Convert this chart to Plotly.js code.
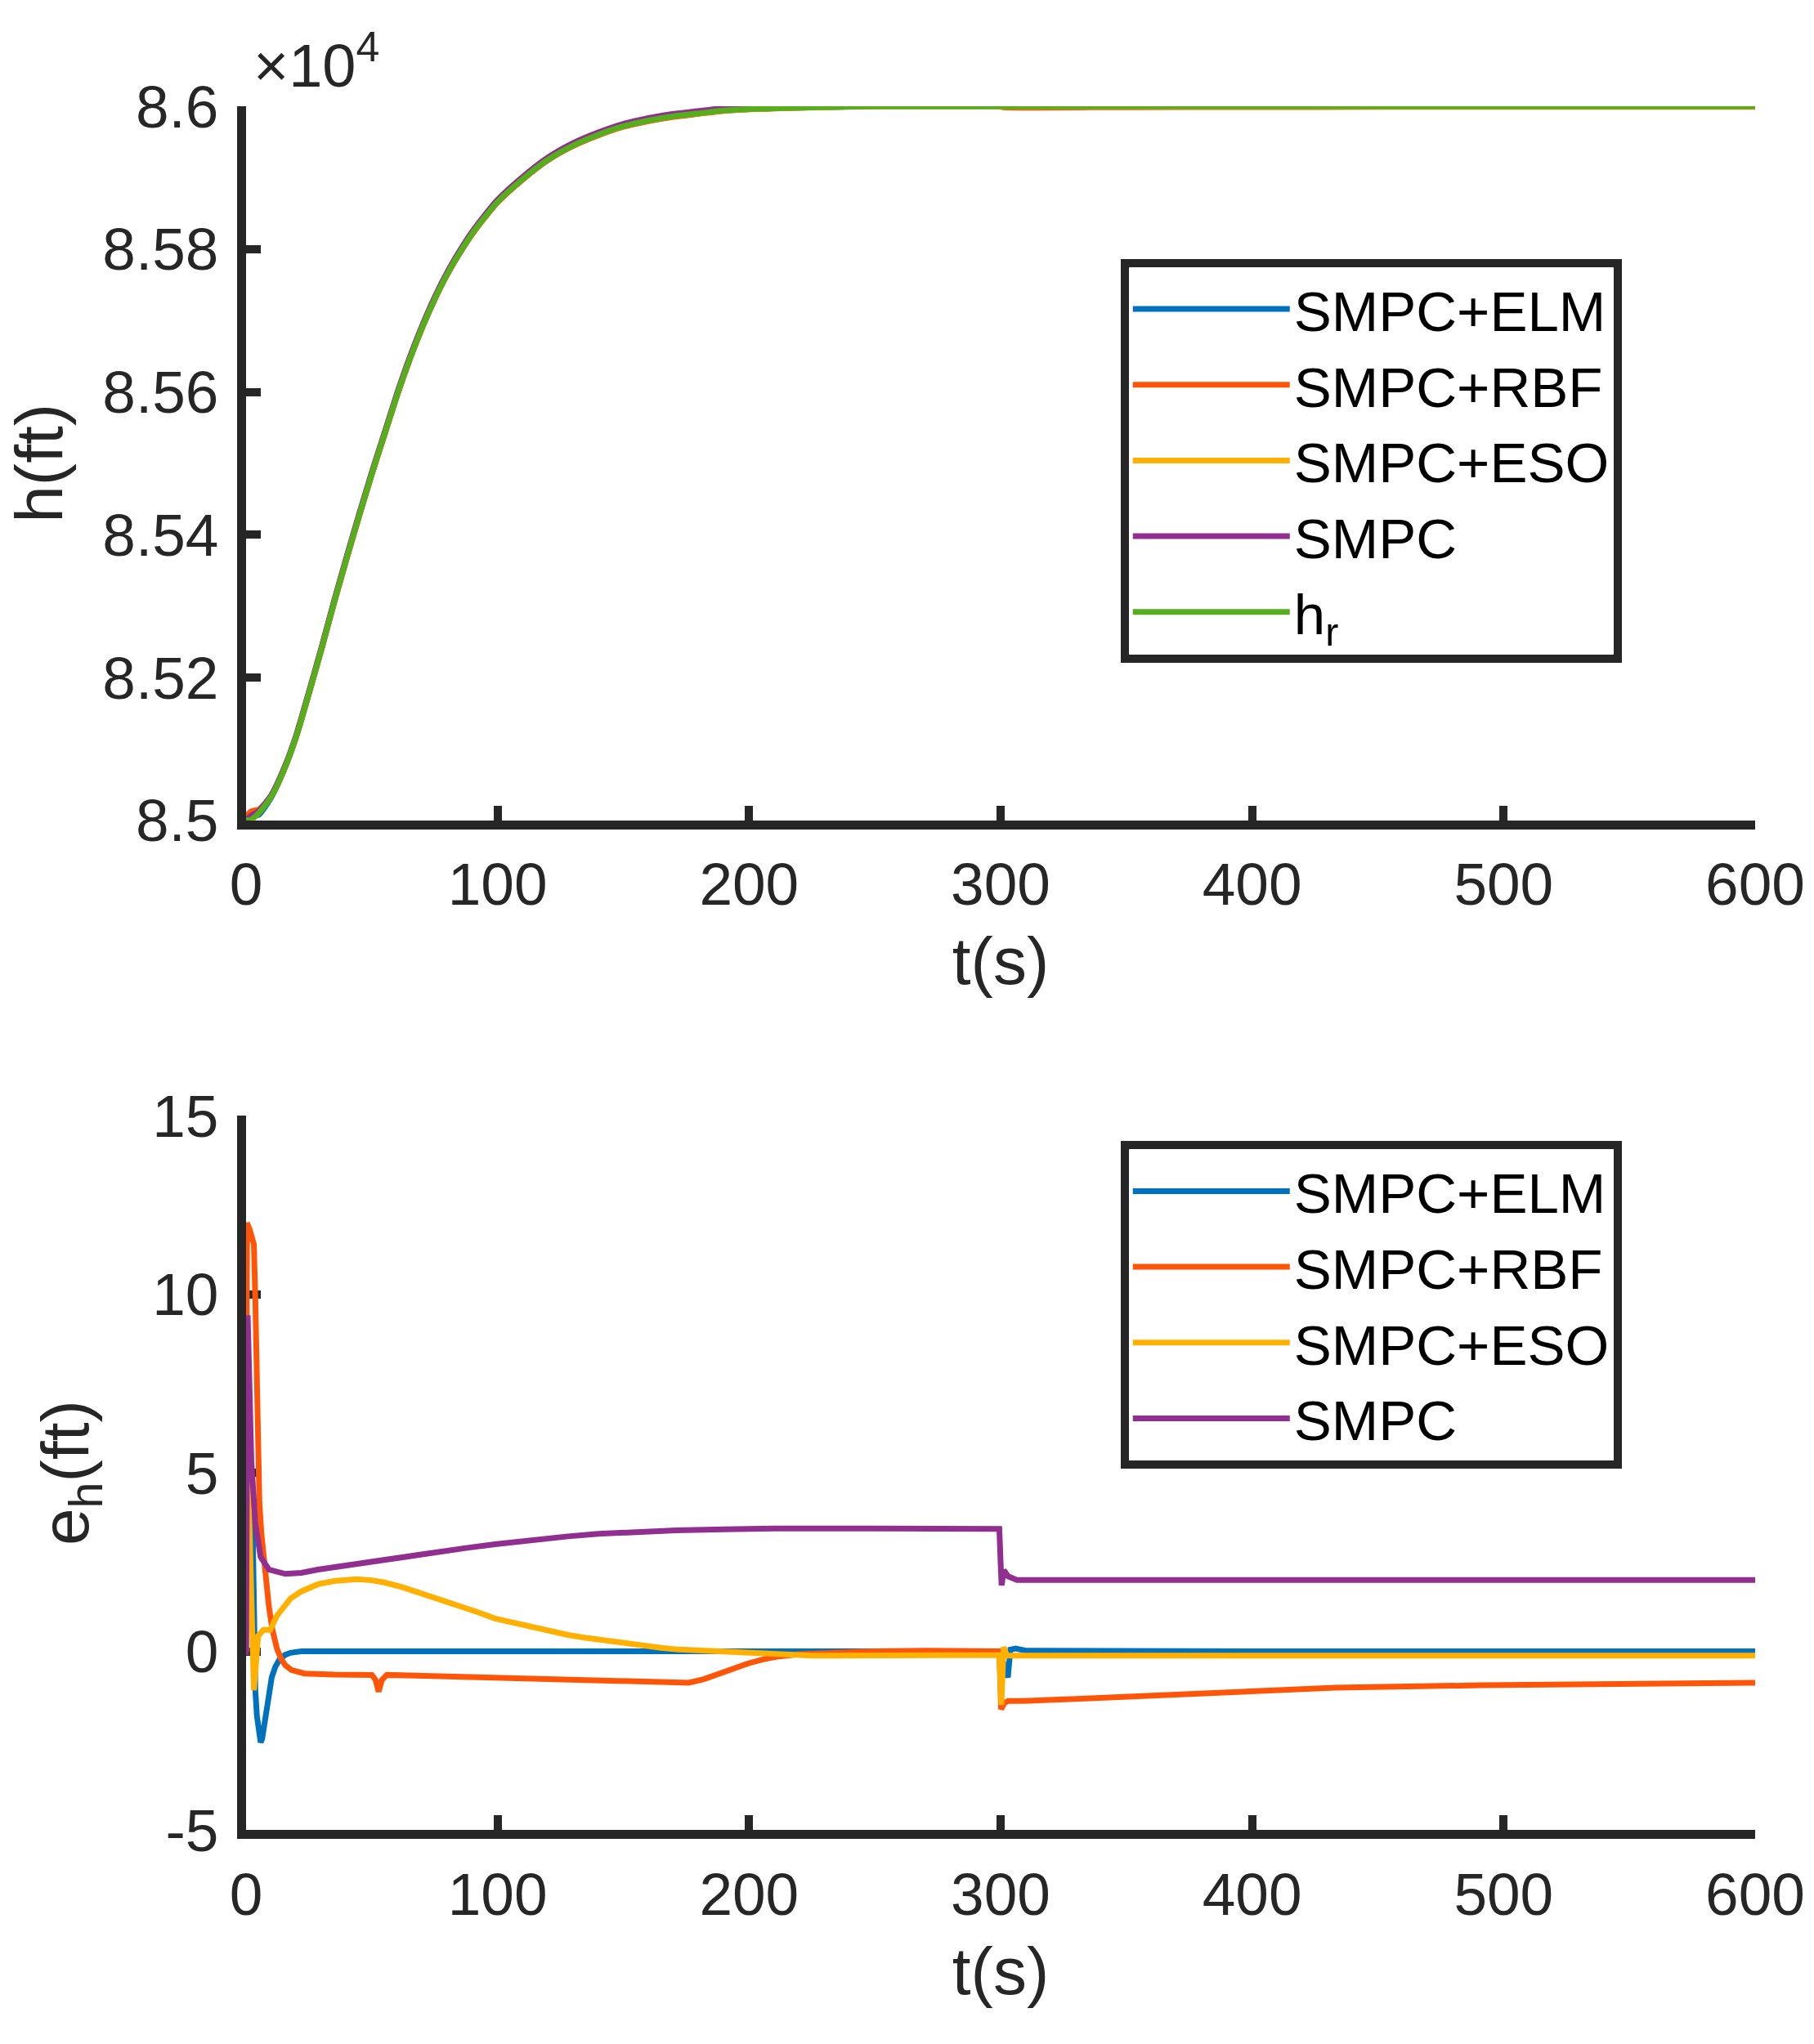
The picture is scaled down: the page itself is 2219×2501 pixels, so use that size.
<!DOCTYPE html>
<html>
<head>
<meta charset="utf-8">
<script src="https://cdn.plot.ly/plotly-3.0.1.min.js"></script>
<style>
  html, body { margin: 0; padding: 0; background: #fff; }
  #chart { width: 2219px; height: 2501px; }
</style>
</head>
<body>
<div id="chart"></div>
<script>
// top panel: altitude (ft)
const tTop = [0, 2, 5, 10, 15, 20, 25, 30, 35, 40, 45, 50, 55, 60, 65, 70, 75, 80, 85, 90, 95, 100,
  110, 120, 130, 140, 150, 160, 170, 180, 190, 200, 220, 250, 299, 301, 350, 400, 450, 500, 550, 600];
const hRef = [85000, 85001, 85010, 85033, 85070, 85118, 85178, 85240, 85305, 85367, 85427, 85485, 85540, 85595,
  85645, 85690, 85730, 85765, 85795, 85822, 85845, 85866, 85898, 85925, 85945, 85960, 85972, 85980, 85986,
  85990, 85994, 85996, 85998, 86000, 86000, 86000, 86000, 86000, 86000, 86000, 86000, 86000];
const hELM = [85000, 85006, 85007.6, 85032.2, 85069.9, 85118, 85178, 85240, 85305, 85367, 85427, 85485, 85540,
  85595, 85645, 85690, 85730, 85765, 85795, 85822, 85845, 85866, 85898, 85925, 85945, 85960, 85972, 85980,
  85986, 85990, 85994, 85996, 85998, 86000, 86000, 86000, 86000, 86000, 86000, 86000, 86000, 86000];
const hRBF = [85004.5, 85012.7, 85015, 85033.8, 85069.7, 85117.4, 85177.4, 85239.4, 85304.4, 85366.4, 85426.4,
  85484.4, 85539.3, 85594.3, 85644.3, 85689.3, 85729.3, 85764.3, 85794.3, 85821.3, 85844.3, 85865.3, 85897.3,
  85924.3, 85944.3, 85959.2, 85971.2, 85979.1, 85985.1, 85989.3, 85993.5, 85995.7, 85997.9, 86000, 86000,
  85998.5, 85998.7, 85998.9, 85999, 85999, 85999.1, 85999.1];
const hESO = [85000, 85001.5, 85010.5, 85033.7, 85071.3, 85119.6, 85179.8, 85241.9, 85307, 85369, 85429, 85487,
  85541.9, 85596.8, 85646.7, 85691.6, 85731.5, 85766.4, 85796.3, 85823.2, 85846, 85866.9, 85898.7, 85925.6,
  85945.4, 85960.3, 85972.2, 85980.1, 85986.1, 85990, 85994, 85995.9, 85997.9, 85999.9, 85999.9, 86000.1,
  85999.9, 85999.9, 85999.9, 85999.9, 85999.9, 85999.9];
const hSMPC = [84999.9, 85006.3, 85013, 85035.3, 85072.2, 85120.2, 85180.3, 85242.3, 85307.4, 85369.4, 85429.5,
  85487.5, 85542.5, 85597.6, 85647.7, 85692.7, 85732.8, 85767.8, 85797.9, 85824.9, 85848, 85869, 85901.1,
  85928.2, 85948.3, 85963.3, 85975.3, 85983.4, 85989.4, 85993.4, 85997.4, 85999.4, 86001.4, 86003.4, 86003.4,
  86002.3, 86002, 86002, 86002, 86002, 86002, 86002];

// bottom panel: tracking error e_h (ft)
const tELM = [0, 0.7, 2.3, 3.2, 3.7, 4.3, 4.8, 5.3, 5.8, 6.4, 7, 8, 9, 10.2, 11.7, 13.4, 15.5, 17.7, 22, 100, 200,
  299.5, 301, 302.9, 303.9, 306, 310, 400, 600];
const eELM = [0, 6, 4.9, 0, -1.1, -1.8, -2.2, -2.45, -2.55, -2.45, -2.2, -1.67, -1.15, -0.73, -0.42, -0.22, -0.1,
  -0.04, 0, 0, 0, 0, -0.3, -0.73, 0.05, 0.08, 0.02, 0, 0];
const tRBF = [0, 0.4, 1.5, 3.1, 3.7, 4.2, 4.8, 5.3, 6.1, 6.9, 8, 9.1, 10.5, 12.3, 14, 15.6, 18, 23.2, 35, 50, 51.5,
  52.7, 54, 56, 80, 100, 128, 150, 160, 170, 176, 182, 188, 194, 200, 206, 212, 220, 230, 250, 270, 299.5, 300.2,
  301.5, 303, 309, 330, 371, 389, 433, 491, 534, 600];
const eRBF = [4.5, 12.0, 11.8, 11.4, 9.8, 7.66, 5.8, 4.16, 3.3, 2.64, 1.9, 1.24, 0.6, 0.07, -0.22, -0.39, -0.52,
  -0.62, -0.65, -0.66, -0.8, -1.13, -0.8, -0.66, -0.7, -0.74, -0.78, -0.82, -0.86, -0.9, -0.88, -0.78, -0.62,
  -0.47, -0.33, -0.22, -0.14, -0.08, -0.04, 0, 0.02, 0, -1.62, -1.45, -1.39, -1.39, -1.33, -1.2, -1.14, -1.02,
  -0.95, -0.91, -0.88];
const tESO = [0, 0.5, 1.3, 2.2, 3.1, 4, 4.8, 6.9, 9.6, 12.3, 17.7, 22, 28.6, 35, 44, 50, 55, 62, 70, 77, 85, 92,
  99, 106, 114, 121, 128, 135, 143, 150, 157, 165, 172, 180, 186, 200, 210, 225, 299.5, 300.3, 301.2, 302.5, 600];
const eESO = [0, 5.5, 3.7, 0.5, -1.09, -0.3, 0.43, 0.6, 0.6, 1.0, 1.48, 1.68, 1.88, 1.97, 2.02, 1.99, 1.93, 1.8,
  1.62, 1.45, 1.28, 1.1, 0.92, 0.8, 0.67, 0.56, 0.46, 0.38, 0.3, 0.22, 0.16, 0.1, 0.05, 0.02, 0.0, -0.06, -0.1,
  -0.12, -0.1, -1.5, 0.12, -0.12, -0.12];
const tSMPC = [0, 0.65, 2.1, 3.7, 5.8, 9.1, 15.6, 22, 28.6, 36, 44.8, 55.5, 66, 77, 88, 99, 113, 128, 140, 150,
  171, 190, 210, 250, 299.5, 300, 300.4, 301.3, 303, 306.5, 600];
const eSMPC = [-0.1, 9.41, 5.33, 3.58, 2.64, 2.29, 2.17, 2.2, 2.29, 2.37, 2.47, 2.58, 2.69, 2.8, 2.9, 3.0, 3.12,
  3.22, 3.29, 3.33, 3.39, 3.42, 3.44, 3.44, 3.43, 2.5, 1.85, 2.27, 2.1, 2.0, 2.0];

const names = ["SMPC+ELM", "SMPC+RBF", "SMPC+ESO", "SMPC", "h<sub>r</sub>"];
const colors = ["#0072BD", "#FF5508", "#FFB000", "#912F90", "#56AE1E"];
const xTicks = [0, 100, 200, 300, 400, 500, 600];
const hTicks = [8.5, 8.52, 8.54, 8.56, 8.58, 8.6];
const eTicks = [-5, 0, 5, 10, 15];
const eTickText = ["-5", "0", "5", "10", "15"];

const FONT = "Liberation Sans, Arial, Helvetica, sans-serif";
const INK = "#262626";
const LW = 7;

const topSeries = [hELM, hRBF, hESO, hSMPC, hRef];
const bottomSeries = [[tELM, eELM], [tRBF, eRBF], [tESO, eESO], [tSMPC, eSMPC]];

const traces = [];
topSeries.forEach((ys, i) => {
  traces.push({
    x: tTop, y: ys.map(v => v / 1e4), type: "scatter", mode: "lines",
    name: names[i], xaxis: "x", yaxis: "y", legend: "legend",
    line: { color: colors[i], width: LW, shape: "spline", smoothing: 0.6 }
  });
});
bottomSeries.forEach((s, i) => {
  traces.push({
    x: s[0], y: s[1], type: "scatter", mode: "lines",
    name: names[i], xaxis: "x2", yaxis: "y2", legend: "legend2",
    line: { color: colors[i], width: LW }
  });
});

function axisBase() {
  return {
    showline: true, linecolor: INK, linewidth: 11,
    ticks: "inside", ticklen: 18, tickwidth: 10, tickcolor: INK,
    showgrid: false, zeroline: false, layer: "below traces",
    tickfont: { family: FONT, size: 73, color: INK }
  };
}

const legendBase = {
  bgcolor: "#fff", bordercolor: INK, borderwidth: 10,
  font: { family: FONT, size: 69, color: "#000" },
  itemwidth: 192, tracegroupgap: 0, xanchor: "left", yanchor: "top",
  x: 0.5795
};

const layout = {
  width: 2219, height: 2501,
  margin: { l: 301, r: 72, t: 130, b: 261.5 },
  paper_bgcolor: "#fff", plot_bgcolor: "#fff",
  font: { family: FONT, color: INK },
  xaxis: Object.assign(axisBase(), {
    domain: [0, 1], anchor: "y", range: [0, 600], tickvals: xTicks, ticklabelstandoff: 5,
    title: { text: "t(s)", font: { family: FONT, size: 82, color: INK }, standoff: 30 }
  }),
  yaxis: Object.assign(axisBase(), {
    domain: [0.5857, 1], anchor: "x", range: [8.5, 8.6], tickvals: hTicks,
    ticktext: hTicks.map(String), ticklabelstandoff: 8,
    title: { text: "h(ft)", font: { family: FONT, size: 82, color: INK }, standoff: 26 }
  }),
  xaxis2: Object.assign(axisBase(), {
    domain: [0, 1], anchor: "y2", range: [0, 600], tickvals: xTicks, ticklabelstandoff: 5,
    title: { text: "t(s)", font: { family: FONT, size: 82, color: INK }, standoff: 30 }
  }),
  yaxis2: Object.assign(axisBase(), {
    domain: [0, 0.4143], anchor: "x2", range: [-5, 15], tickvals: eTicks, ticktext: eTickText,
    ticklabelstandoff: 8,
    title: { text: "e<sub>h</sub>(ft)", font: { family: FONT, size: 82, color: INK }, standoff: 55 }
  }),
  legend: Object.assign({}, legendBase, { y: 0.9115 }),
  legend2: Object.assign({}, legendBase, { y: 0.3997 }),
  annotations: [{
    xref: "paper", yref: "paper", x: 0.004, y: 1.026, xanchor: "left", yanchor: "middle",
    text: "×10<sup>4</sup>", showarrow: false,
    font: { family: FONT, size: 74, color: INK }
  }]
};

Plotly.newPlot("chart", traces, layout, { displayModeBar: false, staticPlot: true });
</script>
</body>
</html>
